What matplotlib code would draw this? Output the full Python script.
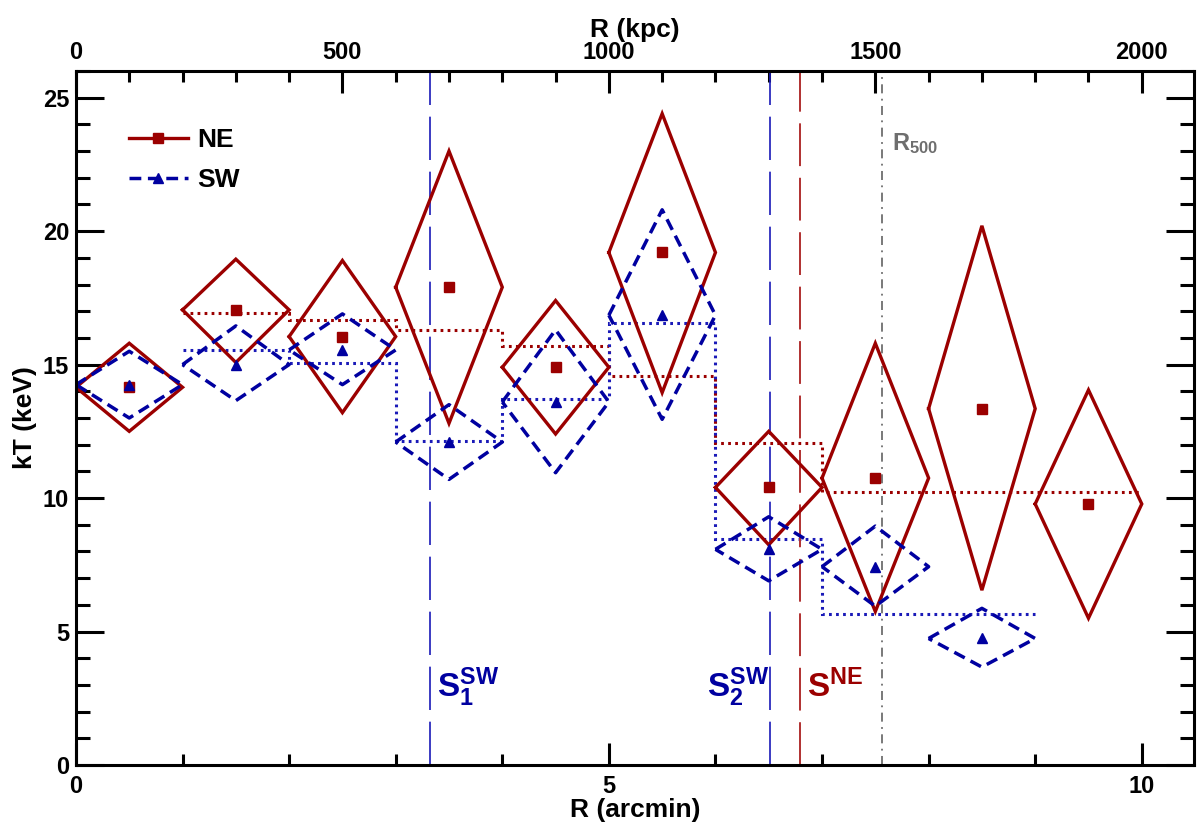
import matplotlib
matplotlib.use("Agg")
import matplotlib.pyplot as plt
from matplotlib.lines import Line2D
from matplotlib.ticker import MultipleLocator, FixedLocator

plt.rcParams['font.family'] = ['Liberation Sans', 'DejaVu Sans']
plt.rcParams['font.weight'] = 'bold'
plt.rcParams['mathtext.fontset'] = 'custom'
plt.rcParams['mathtext.bf'] = 'Liberation Sans:bold'
plt.rcParams['mathtext.rm'] = 'Liberation Sans:bold'
plt.rcParams['mathtext.it'] = 'Liberation Sans:bold'

# ---------------- data ----------------
KPC_PER_ARCMIN = 200.0
kpc_ticks = [0, 500, 1000, 1500, 2000]

ne_edges = [0, 1, 2, 3, 4, 5, 6, 7, 8, 9, 10]
ne_kT = [14.15, 17.05, 16.05, 17.9, 14.9, 19.2, 10.4, 10.75, 13.35, 9.78]
ne_hi = [15.8, 18.95, 18.9, 23.0, 17.4, 24.4, 12.5, 15.8, 20.2, 14.05]
ne_lo = [12.5, 15.08, 13.2, 12.8, 12.4, 13.95, 8.25, 5.75, 6.55, 5.5]

sw_edges = [0, 1, 2, 3, 4, 5, 6, 7, 8, 9]
sw_kT = [14.25, 15.0, 15.55, 12.1, 13.6, 16.85, 8.08, 7.43, 4.74]
sw_hi = [15.5, 16.45, 16.9, 13.5, 16.3, 20.8, 9.3, 8.95, 5.87]
sw_lo = [13.0, 13.65, 14.25, 10.7, 10.95, 12.95, 6.9, 5.95, 3.67]

ne_deproj_edges = [1, 2, 3, 4, 5, 6, 7, 10]
ne_deproj_kT = [16.93, 16.68, 16.30, 15.68, 14.56, 12.06, 10.24]

sw_deproj_edges = [1, 2, 3, 4, 5, 6, 7, 9]
sw_deproj_kT = [15.55, 15.07, 12.13, 13.70, 16.55, 8.45, 5.66]

shock_s1_sw = 3.32
shock_s2_sw = 6.51
shock_ne = 6.79
r500 = 7.56

# ---------------- style ----------------
RED = '#9B0000'
BLUE = '#0000A0'
LINE_BLUE = '#1A1AB8'
LINE_RED = '#B03030'
GRAY = '#6E6E6E'

fig = plt.figure(figsize=(12, 8.33), dpi=100)
ax = fig.add_axes([0.0633, 0.0816, 0.9317, 0.8332])


def diamonds(ax, edges, kT, hi, lo, **kw):
    for i in range(len(kT)):
        xl, xr = edges[i], edges[i + 1]
        xc = 0.5 * (xl + xr)
        ax.plot([xl, xc, xr, xc, xl], [kT[i], hi[i], kT[i], lo[i], kT[i]], **kw)


diamonds(ax, ne_edges, ne_kT, ne_hi, ne_lo, color=RED, lw=2.4, solid_joinstyle='miter')
diamonds(ax, sw_edges, sw_kT, sw_hi, sw_lo, color=BLUE, lw=2.5,
         linestyle=(0, (3.4, 1.9)))

ne_cent = [0.5 * (ne_edges[i] + ne_edges[i + 1]) for i in range(len(ne_kT))]
sw_cent = [0.5 * (sw_edges[i] + sw_edges[i + 1]) for i in range(len(sw_kT))]
ax.plot(ne_cent, ne_kT, 's', color=RED, ms=7, ls='none', zorder=5)
ax.plot(sw_cent, sw_kT, '^', color=BLUE, ms=7, ls='none', zorder=5)

ax.stairs(ne_deproj_kT, ne_deproj_edges, baseline=None, color=RED, lw=2.2,
          linestyle=(0, (0.9, 1.4)))
ax.stairs(sw_deproj_kT, sw_deproj_edges, baseline=None, color=LINE_BLUE, lw=2.2,
          linestyle=(0, (0.9, 1.4)))

ax.axvline(shock_s1_sw, color=LINE_BLUE, lw=1.2, linestyle=(0, (26, 7)), zorder=1)
ax.axvline(shock_s2_sw, color=LINE_BLUE, lw=1.2, linestyle=(0, (26, 7)), zorder=1)
ax.axvline(shock_ne, color=LINE_RED, lw=1.4, linestyle=(0, (22, 6)), zorder=1)
ax.axvline(r500, color=GRAY, lw=1.3, linestyle=(0, (5, 3, 1, 3)), zorder=1)

ax.text(3.39, 2.55, r'$\mathbf{S_1^{SW}}$', color=BLUE, fontsize=24, va='baseline')
ax.text(5.92, 2.55, r'$\mathbf{S_2^{SW}}$', color=BLUE, fontsize=24, va='baseline')
ax.text(6.86, 2.55, r'$\mathbf{S^{NE}}$', color=RED, fontsize=24, va='baseline')
ax.text(7.66, 23.02, r'$\mathbf{R_{500}}$', color=GRAY, fontsize=17, va='baseline')

ax.set_xlim(0, 10.49)
ax.set_ylim(0, 26)

ax.xaxis.set_major_locator(MultipleLocator(5))
ax.xaxis.set_minor_locator(MultipleLocator(1))
ax.yaxis.set_major_locator(MultipleLocator(5))
ax.yaxis.set_minor_locator(MultipleLocator(1))

ax.tick_params(axis='x', which='major', direction='in', length=16, width=2.2,
               labelsize=17, pad=7, top=False)
ax.tick_params(axis='x', which='minor', direction='in', length=8, width=2.2, top=False)
ax.tick_params(axis='y', which='major', direction='in', length=20, width=2.2,
               labelsize=17, pad=5, right=True)
ax.tick_params(axis='y', which='minor', direction='in', length=10, width=2.2, right=True)

for s in ax.spines.values():
    s.set_linewidth(2.2)

sec = ax.secondary_xaxis('top', functions=(lambda x: x * KPC_PER_ARCMIN,
                                           lambda x: x / KPC_PER_ARCMIN))
sec.xaxis.set_major_locator(FixedLocator(kpc_ticks))
sec.xaxis.set_minor_locator(FixedLocator(list(range(0, 2100, 100))))
sec.tick_params(which='major', direction='in', length=16, width=2.2, labelsize=17, pad=5)
sec.tick_params(which='minor', direction='in', length=8, width=2.2)
sec.set_xlabel('R (kpc)', fontsize=19, fontweight='bold', labelpad=3)

ax.set_xlabel('R (arcmin)', fontsize=19, fontweight='bold', labelpad=0)
ax.set_ylabel('kT (keV)', fontsize=19, fontweight='bold', labelpad=4)

for lab in ax.get_xticklabels() + ax.get_yticklabels() + sec.get_xticklabels():
    lab.set_fontweight('bold')

handles = [Line2D([], [], color=RED, lw=2.4, marker='s', ms=7),
           Line2D([], [], color=BLUE, lw=2.5, linestyle=(0, (3.4, 1.9)), marker='^', ms=7)]
ax.legend(handles, ['NE', 'SW'], loc='upper left', bbox_to_anchor=(0.026, 0.952),
          frameon=False, handlelength=2.25, handletextpad=0.35,
          labelspacing=0.6, prop={'weight': 'bold', 'size': 19})

fig.savefig('out.png', dpi=100)
